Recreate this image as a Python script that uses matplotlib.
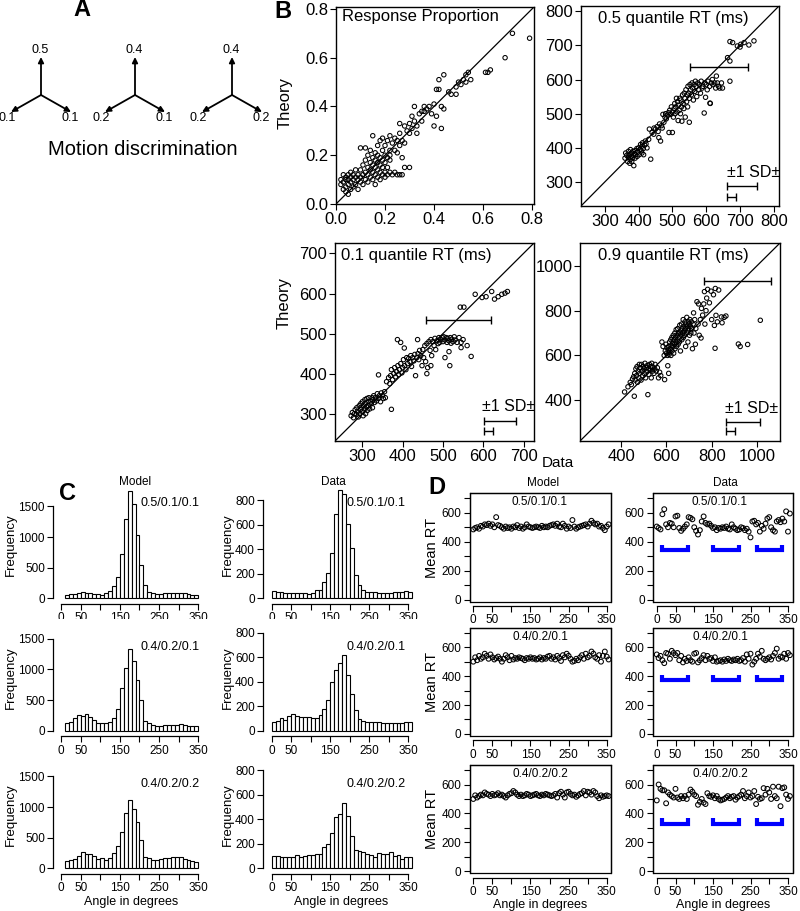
import numpy as np
import matplotlib
matplotlib.use("Agg")
import matplotlib.pyplot as plt
from matplotlib.patches import Rectangle
from matplotlib.ticker import FormatStrFormatter

plt.rcParams['font.family'] = ['Liberation Sans', 'DejaVu Sans']

W, H = 800, 911

#---------------- panel A: motion coherence weights ----------------#
a_weights = [("0.5", "0.1", "0.1"), ("0.4", "0.2", "0.1"), ("0.4", "0.2", "0.2")]
a_centres = [41, 135, 232]

#---------------- panel B: data vs theory ----------------#
rp_pts = [
    (0.02, 0.08), (0.02, 0.10), (0.03, 0.06), (0.03, 0.09), (0.03, 0.12), (0.04, 0.05), (0.04, 0.07),
    (0.04, 0.10), (0.04, 0.11), (0.05, 0.04), (0.05, 0.08), (0.05, 0.10), (0.05, 0.12), (0.06, 0.06),
    (0.06, 0.09), (0.06, 0.11), (0.06, 0.13), (0.07, 0.07), (0.07, 0.10), (0.07, 0.12), (0.08, 0.08),
    (0.08, 0.11), (0.08, 0.14), (0.09, 0.06), (0.09, 0.10), (0.09, 0.12), (0.10, 0.09), (0.10, 0.11),
    (0.10, 0.14), (0.11, 0.08), (0.11, 0.12), (0.11, 0.16), (0.12, 0.10), (0.12, 0.13), (0.12, 0.18),
    (0.13, 0.09), (0.13, 0.12), (0.13, 0.15), (0.13, 0.20), (0.14, 0.11), (0.14, 0.14), (0.14, 0.17),
    (0.14, 0.22), (0.15, 0.10), (0.15, 0.13), (0.15, 0.16), (0.15, 0.19), (0.15, 0.28), (0.16, 0.08),
    (0.16, 0.12), (0.16, 0.15), (0.16, 0.18), (0.16, 0.21), (0.17, 0.11), (0.17, 0.14), (0.17, 0.17),
    (0.17, 0.20), (0.17, 0.24), (0.18, 0.10), (0.18, 0.13), (0.18, 0.16), (0.18, 0.19), (0.18, 0.26),
    (0.19, 0.12), (0.19, 0.15), (0.19, 0.18), (0.19, 0.22), (0.19, 0.27), (0.20, 0.11), (0.20, 0.13),
    (0.20, 0.17), (0.20, 0.20), (0.20, 0.24), (0.21, 0.12), (0.21, 0.15), (0.21, 0.19), (0.21, 0.26),
    (0.22, 0.13), (0.22, 0.18), (0.22, 0.22), (0.22, 0.28), (0.23, 0.12), (0.24, 0.13), (0.25, 0.12),
    (0.26, 0.12), (0.27, 0.12), (0.28, 0.15), (0.30, 0.15), (0.27, 0.19), (0.23, 0.25), (0.24, 0.22),
    (0.24, 0.27), (0.25, 0.21), (0.25, 0.26), (0.26, 0.24), (0.26, 0.29), (0.27, 0.26), (0.28, 0.25),
    (0.28, 0.32), (0.29, 0.30), (0.30, 0.33), (0.30, 0.29), (0.31, 0.31), (0.31, 0.36), (0.32, 0.34),
    (0.32, 0.40), (0.33, 0.29), (0.33, 0.32), (0.34, 0.37), (0.35, 0.34), (0.35, 0.38), (0.36, 0.40),
    (0.36, 0.38), (0.37, 0.39), (0.38, 0.40), (0.40, 0.41), (0.39, 0.37), (0.10, 0.23), (0.12, 0.23),
    (0.26, 0.33), (0.22, 0.20), (0.40, 0.32), (0.41, 0.36), (0.43, 0.31), (0.43, 0.40), (0.44, 0.39),
    (0.41, 0.47), (0.42, 0.47), (0.42, 0.51), (0.44, 0.53), (0.46, 0.46), (0.47, 0.45), (0.49, 0.45),
    (0.49, 0.48), (0.50, 0.50), (0.51, 0.49), (0.52, 0.51), (0.53, 0.50), (0.53, 0.53), (0.54, 0.54),
    (0.55, 0.51), (0.61, 0.54), (0.62, 0.54), (0.63, 0.55), (0.69, 0.60), (0.72, 0.70), (0.79, 0.68),
]

q5_pts = [
    (360, 370), (362, 385), (365, 378), (368, 360), (370, 372), (370, 390), (372, 380), (374, 355),
    (375, 365), (376, 395), (378, 375), (380, 385), (380, 360), (382, 370), (384, 390), (385, 378),
    (386, 348), (388, 383), (390, 370), (390, 392), (392, 380), (395, 398), (396, 375), (398, 388),
    (400, 400), (402, 380), (405, 395), (406, 410), (408, 392), (410, 385), (410, 405), (412, 415),
    (414, 398), (415, 380), (418, 408), (420, 420), (422, 412), (425, 400), (430, 425), (436, 367),
    (432, 455), (440, 445), (445, 440), (446, 458), (450, 455), (455, 462), (458, 448), (460, 430),
    (462, 470), (465, 420), (468, 465), (470, 458), (472, 498), (475, 475), (478, 490), (480, 500),
    (482, 485), (485, 496), (488, 503), (490, 445), (492, 510), (495, 498), (497, 520), (500, 505),
    (500, 445), (503, 490), (505, 515), (507, 530), (508, 500), (510, 520), (512, 545), (514, 505),
    (515, 535), (517, 480), (518, 525), (520, 510), (522, 545), (524, 500), (525, 540), (527, 520),
    (528, 478), (530, 555), (532, 530), (534, 515), (535, 560), (537, 545), (538, 490), (540, 570),
    (542, 535), (544, 555), (545, 520), (546, 580), (548, 560), (550, 545), (550, 475), (552, 585),
    (554, 570), (556, 555), (558, 590), (560, 575), (562, 540), (564, 585), (566, 565), (568, 595),
    (570, 580), (572, 550), (575, 590), (578, 570), (580, 585), (583, 560), (585, 595), (588, 575),
    (590, 580), (594, 502), (596, 590), (600, 585), (603, 570), (605, 595), (610, 580), (612, 530),
    (615, 590), (618, 600), (620, 585), (625, 590), (628, 575), (630, 610), (633, 590), (636, 580),
    (640, 575), (645, 590), (648, 575), (611, 531), (598, 548), (670, 595), (663, 664), (670, 654),
    (670, 711), (678, 708), (692, 698), (702, 703), (712, 708), (726, 701), (741, 713), (700, 695),
]

q1_pts = [
    (272, 295), (275, 303), (278, 290), (280, 300), (282, 310), (285, 298), (286, 315), (288, 305),
    (290, 292), (292, 320), (294, 300), (295, 310), (296, 325), (298, 315), (300, 305), (300, 330),
    (302, 295), (303, 320), (305, 312), (306, 335), (308, 300), (308, 325), (310, 318), (311, 338),
    (312, 308), (314, 330), (315, 320), (316, 340), (318, 312), (320, 332), (322, 325), (324, 340),
    (325, 315), (326, 335), (328, 345), (330, 328), (332, 340), (335, 332), (337, 350), (340, 338),
    (342, 345), (345, 330), (347, 352), (350, 345), (352, 338), (355, 355), (357, 340), (340, 397),
    (372, 311), (360, 380), (365, 390), (368, 375), (370, 395), (372, 410), (375, 385), (378, 400),
    (380, 415), (382, 392), (385, 405), (388, 420), (390, 398), (392, 410), (395, 425), (398, 402),
    (400, 415), (402, 435), (405, 420), (408, 410), (410, 440), (412, 425), (415, 438), (418, 430),
    (420, 445), (422, 418), (425, 440), (428, 432), (430, 448), (432, 395), (435, 440), (438, 450),
    (440, 435), (442, 458), (445, 445), (448, 420), (450, 460), (452, 440), (455, 470), (457, 430),
    (460, 475), (462, 415), (465, 480), (468, 458), (470, 485), (472, 445), (475, 480), (478, 470),
    (480, 488), (482, 460), (485, 482), (488, 475), (490, 490), (492, 478), (495, 485), (498, 490),
    (500, 480), (502, 492), (505, 484), (508, 490), (510, 478), (512, 488), (515, 482), (518, 490),
    (520, 476), (522, 486), (525, 480), (528, 492), (530, 484), (535, 478), (540, 490), (545, 478),
    (550, 485), (515, 455), (517, 420), (505, 440), (470, 420), (460, 400), (437, 485), (387, 485),
    (395, 478), (404, 464), (570, 443), (560, 470), (545, 465), (543, 566), (552, 566), (580, 598),
    (597, 590), (607, 592), (621, 605), (628, 586), (637, 592), (646, 598), (654, 601), (660, 605),
]

q9_pts = [
    (415, 437), (430, 460), (440, 480), (445, 470), (450, 495), (455, 505), (458, 418), (460, 520),
    (462, 490), (465, 540), (468, 510), (470, 550), (472, 480), (475, 530), (478, 500), (480, 560),
    (482, 520), (485, 545), (488, 490), (490, 560), (492, 530), (495, 510), (497, 550), (500, 540),
    (502, 520), (505, 565), (508, 500), (510, 545), (512, 530), (515, 555), (518, 425), (520, 540),
    (522, 515), (525, 560), (528, 535), (530, 550), (533, 500), (535, 565), (538, 530), (540, 548),
    (545, 520), (548, 540), (550, 560), (555, 530), (560, 545), (565, 500), (570, 525), (575, 510),
    (580, 660), (585, 640), (590, 600), (592, 492), (595, 620), (598, 650), (600, 610), (603, 635),
    (605, 600), (606, 554), (608, 625), (610, 520), (610, 640), (612, 605), (614, 660), (615, 615),
    (617, 630), (619, 670), (620, 600), (622, 645), (624, 680), (625, 620), (627, 655), (629, 640),
    (630, 690), (632, 610), (634, 670), (635, 650), (637, 700), (638, 630), (640, 680), (642, 660),
    (643, 715), (645, 640), (647, 690), (648, 670), (650, 720), (652, 650), (654, 700), (655, 680),
    (657, 660), (659, 735), (660, 700), (662, 620), (664, 710), (665, 690), (667, 740), (668, 670),
    (670, 720), (672, 700), (674, 760), (675, 680), (677, 730), (679, 710), (680, 690), (682, 750),
    (684, 720), (685, 640), (687, 740), (689, 700), (690, 770), (692, 730), (694, 710), (695, 660),
    (697, 750), (699, 720), (700, 740), (702, 690), (704, 760), (706, 730), (708, 700), (710, 750),
    (712, 720), (715, 630), (718, 740), (720, 790), (722, 700), (725, 760), (728, 650), (730, 720),
    (735, 840), (740, 740), (742, 830), (745, 690), (750, 760), (753, 678), (755, 810), (760, 780),
    (765, 830), (768, 885), (770, 740), (775, 800), (778, 856), (782, 895), (790, 835), (797, 887),
    (800, 760), (808, 871), (812, 734), (816, 899), (815, 632), (819, 779), (825, 750), (831, 892),
    (843, 772), (846, 746), (855, 770), (863, 776), (918, 651), (926, 640), (959, 649), (1015, 757),
]

# SD bars: (y, x_left, x_right)
q5_sd = [(636, 552, 723), (288, 662, 750), (256, 662, 688)]
q1_sd = [(535, 459, 619), (282, 601, 682), (258, 601, 623)]
q9_sd = [(931, 766, 1062), (305, 864, 1014), (263, 864, 905)]

#---------------- panel C: histograms of chosen angle ----------------#
hist_labels = ["0.5/0.1/0.1", "0.4/0.2/0.1", "0.4/0.2/0.2"]
model_bins = np.arange(15, 350, 10)
data_bins = np.arange(5, 360, 10)
hm1 = [50, 65, 70, 80, 95, 85, 80, 75, 65, 55, 80, 120, 200, 350, 730, 1300, 1750, 1540,
       1030, 545, 210, 110, 80, 70, 75, 85, 90, 90, 90, 85, 80, 70, 60, 55]
hm2 = [120, 150, 200, 260, 240, 265, 225, 170, 125, 125, 130, 135, 210, 350, 700, 1030, 1330,
       1140, 830, 500, 160, 120, 95, 80, 80, 90, 90, 100, 100, 110, 90, 80, 75, 75]
hm3 = [120, 140, 150, 200, 260, 240, 230, 200, 150, 160, 130, 160, 250, 360, 600, 910, 1120,
       970, 760, 460, 190, 160, 140, 130, 150, 160, 170, 190, 190, 180, 150, 130, 120, 110]
hd1 = [60, 55, 50, 45, 40, 45, 40, 45, 40, 35, 40, 70, 70, 130, 210, 370, 690, 880, 850, 610,
       410, 190, 105, 65, 55, 50, 50, 45, 45, 45, 40, 50, 50, 55, 60, 55]
hd2 = [70, 80, 100, 90, 120, 135, 120, 115, 110, 110, 105, 105, 125, 180, 250, 395, 495, 555,
       615, 455, 300, 170, 95, 80, 75, 70, 70, 70, 65, 60, 65, 60, 65, 60, 75, 70]
hd3 = [100, 100, 90, 90, 90, 95, 110, 95, 100, 105, 110, 115, 120, 170, 200, 290, 415, 445,
       530, 425, 265, 150, 145, 130, 115, 110, 90, 125, 120, 120, 130, 100, 110, 80, 90, 90]

#---------------- panel D: mean RT by angle ----------------#
rt_angles = np.arange(0, 360, 5)
mr1 = [485, 495, 500, 490, 510, 505, 520, 515, 525, 510, 520, 500, 570, 515, 510, 500, 490, 505,
       495, 500, 490, 505, 500, 515, 495, 505, 490, 500, 520, 505, 500, 495, 500, 505, 500, 495,
       510, 500, 505, 500, 510, 515, 520, 510, 525, 505, 500, 525, 510, 490, 505, 495, 550, 505,
       490, 500, 505, 510, 515, 520, 505, 525, 545, 530, 520, 525, 505, 510, 495, 480, 505, 520]
dr1 = [505, 495, 485, 590, 625, 520, 500, 530, 525, 500, 575, 580, 495, 475, 490, 505, 520, 570,
       565, 555, 500, 475, 450, 480, 540, 575, 530, 520, 525, 510, 495, 500, 480, 495, 490, 500,
       495, 505, 490, 485, 520, 500, 490, 480, 485, 500, 495, 480, 490, 470, 430, 540, 545, 520,
       530, 470, 510, 490, 525, 560, 570, 500, 480, 470, 540, 550, 535, 560, 540, 610, 470, 595]
mr2 = [500, 530, 510, 540, 520, 530, 555, 540, 520, 550, 530, 515, 525, 535, 520, 500, 520, 545,
       530, 510, 540, 515, 525, 520, 530, 525, 520, 510, 525, 520, 530, 520, 525, 515, 520, 530,
       515, 525, 520, 535, 540, 520, 530, 515, 540, 525, 505, 545, 530, 555, 540, 520, 500, 505,
       520, 510, 530, 545, 520, 555, 530, 540, 570, 555, 530, 520, 545, 500, 540, 570, 535, 515]
dr2 = [550, 525, 540, 510, 490, 560, 555, 520, 575, 560, 545, 560, 510, 540, 495, 520, 505, 530,
       510, 500, 555, 560, 495, 510, 525, 545, 510, 540, 520, 525, 505, 530, 500, 505, 510, 500,
       515, 505, 520, 510, 505, 515, 510, 520, 505, 510, 525, 500, 550, 520, 555, 480, 500, 520,
       555, 535, 575, 520, 510, 520, 530, 515, 540, 560, 590, 520, 535, 530, 555, 520, 560, 545]
mr3 = [500, 525, 510, 520, 530, 525, 545, 535, 530, 520, 535, 525, 530, 540, 525, 530, 520, 510,
       525, 535, 540, 555, 545, 530, 520, 530, 520, 525, 535, 530, 520, 525, 530, 535, 525, 520,
       530, 525, 535, 530, 525, 520, 525, 535, 510, 540, 550, 530, 510, 545, 550, 535, 525, 530,
       515, 525, 535, 540, 555, 525, 550, 545, 530, 555, 545, 520, 505, 525, 515, 520, 525, 520]
dr3 = [490, 600, 570, 560, 560, 470, 545, 530, 520, 510, 570, 510, 500, 520, 505, 520, 500, 530,
       565, 550, 530, 520, 460, 480, 500, 475, 465, 540, 520, 515, 525, 505, 520, 500, 490, 495,
       500, 510, 520, 505, 515, 520, 495, 510, 520, 530, 555, 505, 520, 545, 510, 520, 555, 465,
       515, 500, 505, 575, 530, 570, 545, 500, 585, 520, 505, 585, 450, 575, 580, 530, 500, 520]
# blue brackets under the data: height per row and angle ranges
blue_y = [340, 370, 330]
blue_ranges = [(13, 83), (150, 219), (267, 333)]

fig = plt.figure(figsize=(W / 100, H / 100), dpi=100)


def px_ax(l, t, r, b):
    return fig.add_axes([l / W, 1 - b / H, (r - l) / W, (b - t) / H])


def px_text(x, y, s, **kw):
    fig.text(x / W, 1 - y / H, s, **kw)


#------------------------------ A ------------------------------#
axA = px_ax(0, 0, 280, 170)
axA.set_xlim(0, 280)
axA.set_ylim(170, 0)
axA.axis('off')
for cx, (up, left, right) in zip(a_centres, a_weights):
    cy = 95
    for dx, dy in [(0, -38), (-30, 17), (30, 17)]:
        axA.annotate('', xy=(cx + dx, cy + dy), xytext=(cx, cy),
                     arrowprops=dict(arrowstyle='-|>', lw=1.3, color='black',
                                     mutation_scale=8, shrinkA=0, shrinkB=0))
    axA.text(cx - 1, 50, up, ha='center', va='center', fontsize=9)
    axA.text(cx - 34, 118, left, ha='center', va='center', fontsize=9)
    axA.text(cx + 29, 118, right, ha='center', va='center', fontsize=9)
px_text(143, 149, "Motion discrimination", ha='center', va='center', fontsize=14.5)
px_text(82, 10, "A", ha='center', va='center', fontsize=17, fontweight='bold')

#------------------------------ B ------------------------------#


def scatter_panel(box, pts, lim, ticks, title, tx, ty, tha, sd=None, sd_xy=None, fmt=None):
    ax = px_ax(*box)
    p = np.array(pts)
    ax.scatter(p[:, 0], p[:, 1], s=10, facecolors='none', edgecolors='black', linewidths=0.75, zorder=3)
    ax.axline((lim[0], lim[0]), slope=1, color='black', lw=0.9)
    ax.set_xlim(lim)
    ax.set_ylim(lim)
    ax.set_xticks(ticks)
    ax.set_yticks(ticks)
    if fmt:
        ax.xaxis.set_major_formatter(FormatStrFormatter(fmt))
        ax.yaxis.set_major_formatter(FormatStrFormatter(fmt))
    ax.tick_params(direction='out', length=4, width=0.8, labelsize=12, pad=1.5)
    for s in ax.spines.values():
        s.set_linewidth(1)
    ax.text(tx, ty, title, transform=ax.transAxes, ha=tha, va='center', fontsize=12)
    if sd:
        for y, x0, x1 in sd:
            ax.errorbar((x0 + x1) / 2, y, xerr=(x1 - x0) / 2, fmt='none', ecolor='black',
                        elinewidth=1, capsize=3, capthick=1)
        ax.text(sd_xy[0], sd_xy[1], "\u00b11 SD\u00b1", ha='left', va='center', fontsize=11.5)
    return ax


scatter_panel((336, 7, 534, 204), rp_pts, (0, 0.808), np.arange(0, 0.81, 0.2),
              "Response Proportion", 0.03, 0.95, 'left', fmt='%.1f')
scatter_panel((581, 6, 779, 206), q5_pts, (230, 815), np.arange(300, 801, 100),
              "0.5 quantile RT (ms)", 0.465, 0.94, 'center', q5_sd, (660, 328))
scatter_panel((335, 243, 534, 441), q1_pts, (232, 726), np.arange(300, 701, 100),
              "0.1 quantile RT (ms)", 0.03, 0.935, 'left', q1_sd, (598, 317))
scatter_panel((580, 243, 780, 441), q9_pts, (218, 1102), np.arange(400, 1001, 200),
              "0.9 quantile RT (ms)", 0.467, 0.935, 'center', q9_sd, (860, 362))

px_text(285, 103, "Theory", rotation=90, ha='center', va='center', fontsize=12)
px_text(284, 303, "Theory", rotation=90, ha='center', va='center', fontsize=12)
px_text(558, 463, "Data", ha='center', va='center', fontsize=11)
px_text(283, 12, "B", ha='center', va='center', fontsize=17, fontweight='bold')

#------------------------------ C ------------------------------#
angle_ticks = np.arange(0, 351, 50)
angle_labels = ['0', '50', '', '150', '', '250', '', '350']
row_zero = [598.3, 730.7, 868.3]
hist_sets = [(hm1, hd1), (hm2, hd2), (hm3, hd3)]

for i, (lab, (hm, hd)) in enumerate(zip(hist_labels, hist_sets)):
    z = row_zero[i]
    for heights, bins, left, x0, ppu_x, ymax, ppu_y, yticks, lx in [
        (hm, model_bins, 53.3, 61.0, 0.3923, 1500, 0.0613, [0, 500, 1000, 1500], 170),
        (hd, data_bins, 263.3, 271.7, 0.3903, 800, 0.1225, [0, 200, 400, 600, 800], 376),
    ]:
        right = left + 155
        ax = px_ax(left, z - 112, right, z + 5.7)
        ax.bar(bins, heights, width=10, color='white', edgecolor='black', linewidth=0.8)
        ax.set_xlim(-(x0 - left) / ppu_x, (right - x0) / ppu_x)
        ax.set_ylim(-5.7 / ppu_y, 112 / ppu_y)
        ax.spines['top'].set_visible(False)
        ax.spines['right'].set_visible(False)
        ax.spines['left'].set_bounds(0, ymax)
        ax.spines['bottom'].set_bounds(0, 350)
        for s in ('left', 'bottom'):
            ax.spines[s].set_linewidth(0.9)
        ax.set_yticks(yticks)
        ax.set_xticks(angle_ticks)
        ax.set_xticklabels(angle_labels)
        ax.tick_params(direction='out', length=4, width=0.8, labelsize=8.5, pad=2)
        ax.set_ylabel("Frequency", fontsize=9.5, labelpad=1)
        px_text(lx, (z - 95) if i == 0 else (z - 84), lab, ha='center', va='center', fontsize=9)
        if i == 2:
            ax.set_xlabel("Angle in degrees", fontsize=9, labelpad=1)

px_text(135, 482, "Model", ha='center', va='center', fontsize=8.5)
px_text(333, 482, "Data", ha='center', va='center', fontsize=8.5)
px_text(68, 493, "C", ha='center', va='center', fontsize=17, fontweight='bold')

#------------------------------ D ------------------------------#
d_tops = [493.3, 627.7, 765]
rt_sets = [(mr1, dr1), (mr2, dr2), (mr3, dr3)]
for i, (lab, (mr, dr)) in enumerate(zip(hist_labels, rt_sets)):
    top = d_tops[i]
    for col, vals, left, right, lx in [(0, mr, 469.5, 611.3, 540), (1, dr, 653, 792.5, 720)]:
        ax = px_ax(left, top, right, top + 108.4)
        ax.scatter(rt_angles, vals, s=12, facecolors='none', edgecolors='black',
                   linewidths=0.75, zorder=3)
        if col == 1:
            for x0, x1 in blue_ranges:
                y = blue_y[i]
                ax.plot([x0, x0, x1, x1], [y + 40, y, y, y + 40], color='#0000ff', lw=3,
                        solid_capstyle='butt', solid_joinstyle='miter')
        ax.set_xlim(-10, 362)
        ax.set_ylim(-15, 735)
        ax.spines['bottom'].set_position(('outward', 3))
        ax.spines['bottom'].set_bounds(0, 350)
        ax.add_patch(Rectangle((0, 0), 1, 1, transform=ax.transAxes, fill=False,
                               edgecolor='black', lw=0.9, clip_on=False))
        for s in ax.spines.values():
            s.set_linewidth(0.9)
        ax.set_xticks(angle_ticks)
        ax.set_xticklabels(angle_labels)
        ax.set_yticks(np.arange(0, 701, 100))
        ax.set_yticklabels(['0', '', '200', '', '400', '', '600', ''])
        ax.tick_params(direction='out', length=4, width=0.8, labelsize=8.5, pad=2)
        if col == 0:
            ax.set_ylabel("Mean RT", fontsize=10.5, labelpad=2)
        if i == 2:
            ax.set_xlabel("Angle in degrees", fontsize=9, labelpad=1)
        px_text(lx, top + 9, lab, ha='center', va='center', fontsize=8.5)

px_text(543, 483, "Model", ha='center', va='center', fontsize=8.5)
px_text(725, 483, "Data", ha='center', va='center', fontsize=8.5)
px_text(437, 488, "D", ha='center', va='center', fontsize=17, fontweight='bold')

fig.savefig("out.png", dpi=100)
